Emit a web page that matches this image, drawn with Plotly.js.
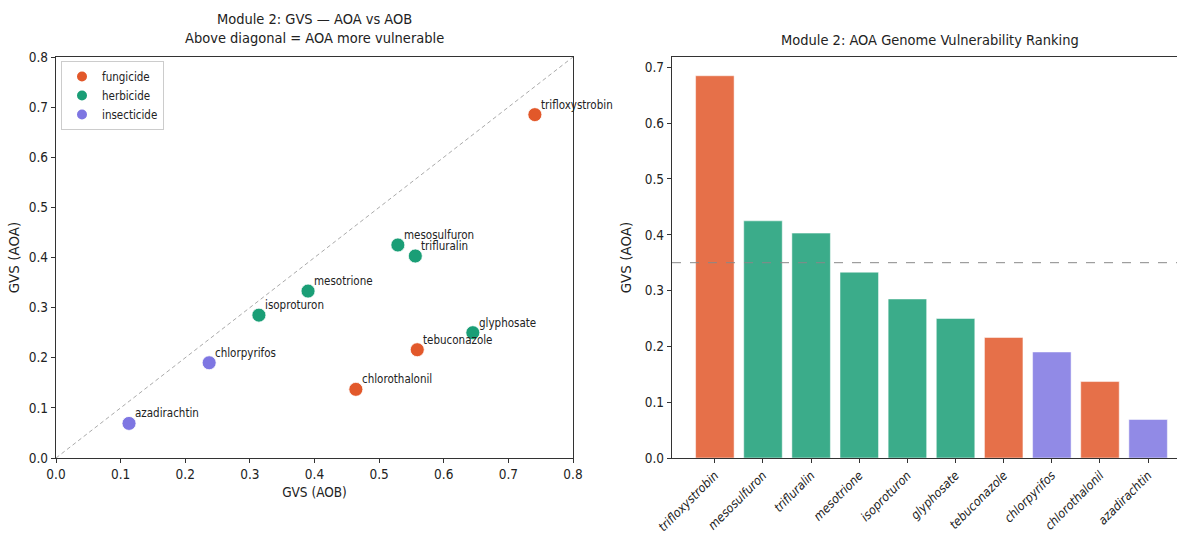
<!DOCTYPE html>
<html>
<head>
<meta charset="utf-8">
<script src="https://cdn.plot.ly/plotly-3.0.1.min.js"></script>
<style>html,body{margin:0;padding:0;background:#fff;}#chart{width:1177px;height:537px;}</style>
</head>
<body>
<div id="chart"></div>
<script>
// ---- data ----
const compounds = ["trifloxystrobin","mesosulfuron","trifluralin","mesotrione","isoproturon","glyphosate","tebuconazole","chlorpyrifos","chlorothalonil","azadirachtin"];
const classes   = ["fungicide","herbicide","herbicide","herbicide","herbicide","herbicide","fungicide","insecticide","fungicide","insecticide"];
const gvsAOA    = [0.685,0.425,0.403,0.333,0.285,0.250,0.216,0.190,0.137,0.069];
const gvsAOB    = [0.741,0.529,0.556,0.390,0.314,0.645,0.559,0.237,0.464,0.113];
const classNames = ["fungicide","herbicide","insecticide"];
const axisLimit = [0, 0.8];
const threshold = 0.35;

const colors = {fungicide:"#e2582a", herbicide:"#1a9e76", insecticide:"#7e76e2"};
const FONT = "'DejaVu Sans Condensed','Liberation Sans Narrow','Roboto Condensed','DejaVu Sans',sans-serif";
const FONTV = "'DejaVu Sans',sans-serif";
const txt = "#222";

const traces = [];
// diagonal
traces.push({x: axisLimit, y: axisLimit, mode:"lines", type:"scatter", xaxis:"x", yaxis:"y",
  line:{color:"#aaa", width:1, dash:"4px,3px"}, showlegend:false, hoverinfo:"skip"});
classNames.forEach(c => {
  const idx = compounds.map((_, i) => i).filter(i => classes[i] === c);
  traces.push({
    type:"scatter", mode:"markers", name:c, xaxis:"x", yaxis:"y",
    x: idx.map(i => gvsAOB[i]), y: idx.map(i => gvsAOA[i]),
    marker:{color:colors[c], size:14, line:{color:"#fff", width:0.8}}
  });
});
traces.push({
  type:"bar", xaxis:"x2", yaxis:"y2", showlegend:false,
  x: compounds.map((_, i) => i), y: gvsAOA,
  width: 0.8,
  marker:{color: classes.map(c => colors[c]), opacity:0.85, line:{color:"#fff", width:0.5}}
});

const annotations = compounds.map((c, i) => ({
  x: gvsAOB[i], y: gvsAOA[i], xref:"x", yref:"y", text:c, showarrow:false,
  xanchor:"left", yanchor:"bottom", xshift:4, yshift:1,
  font:{family:FONT, size:11.5, color:txt}
}));
annotations.push({x:0.267, y:1-18/537, xref:"paper", yref:"paper", text:"Module 2: GVS — AOA vs AOB<br>Above diagonal = AOA more vulnerable",
  showarrow:false, xanchor:"center", yanchor:"middle", font:{family:FONT, size:14.5, color:txt}, yshift:-11});
annotations.push({x:930/1177, y:1-40/537, xref:"paper", yref:"paper", text:"Module 2: AOA Genome Vulnerability Ranking",
  showarrow:false, xanchor:"center", yanchor:"middle", font:{family:FONT, size:14.5, color:txt}});

const axBase = {showgrid:false, zeroline:false, showline:true, mirror:true, linecolor:"#333", linewidth:1.2,
  ticks:"outside", ticklen:4, tickcolor:"#333", tickfont:{family:FONT, size:13.5, color:txt}};

const yDom = [(537-458)/537, (537-57)/537];
const layout = {
  width:1177, height:537, margin:{l:0,r:0,t:0,b:0}, paper_bgcolor:"#fff", plot_bgcolor:"#fff",
  showlegend:true,
  legend:{x:61/1177, y:1-61/537, xanchor:"left", yanchor:"top", bgcolor:"rgba(255,255,255,0.8)",
    bordercolor:"#ccc", borderwidth:1, font:{family:FONT, size:11.5, color:txt}, itemsizing:"constant",
    tracegroupgap:0},
  xaxis: Object.assign({}, axBase, {domain:[56/1177, 573/1177], range:[0,0.8], dtick:0.1, tickformat:".1f",
    title:{text:"GVS (AOB)", font:{family:FONT, size:13.5, color:txt}, standoff:6}}),
  yaxis: Object.assign({}, axBase, {domain:yDom, range:[0,0.8], dtick:0.1, tickformat:".1f",
    title:{text:"GVS (AOA)", font:{family:FONTV, size:13.5, color:txt}, standoff:6}}),
  xaxis2: Object.assign({}, axBase, {anchor:"y2", domain:[672/1177, 1], range:[-0.89, 9.6],
    tickmode:"array", tickvals: compounds.map((_, i) => i), ticktext: compounds.map(c => "<i>"+c+"</i>"),
    tickangle:-45, tickfont:{family:FONT, size:12.5, color:txt}}),
  yaxis2: Object.assign({}, axBase, {anchor:"x2", domain:yDom, range:[0, 0.7186], dtick:0.1, tickformat:".1f",
    title:{text:"GVS (AOA)", font:{family:FONTV, size:13.5, color:txt}, standoff:10}}),
  shapes:[{type:"line", xref:"x2 domain", yref:"y2", x0:0, x1:1, y0:threshold, y1:threshold,
    line:{color:"#888", width:1, dash:"dash"}}],
  annotations: annotations
};
Plotly.newPlot("chart", traces, layout, {displayModeBar:false, staticPlot:true});
</script>
</body>
</html>
